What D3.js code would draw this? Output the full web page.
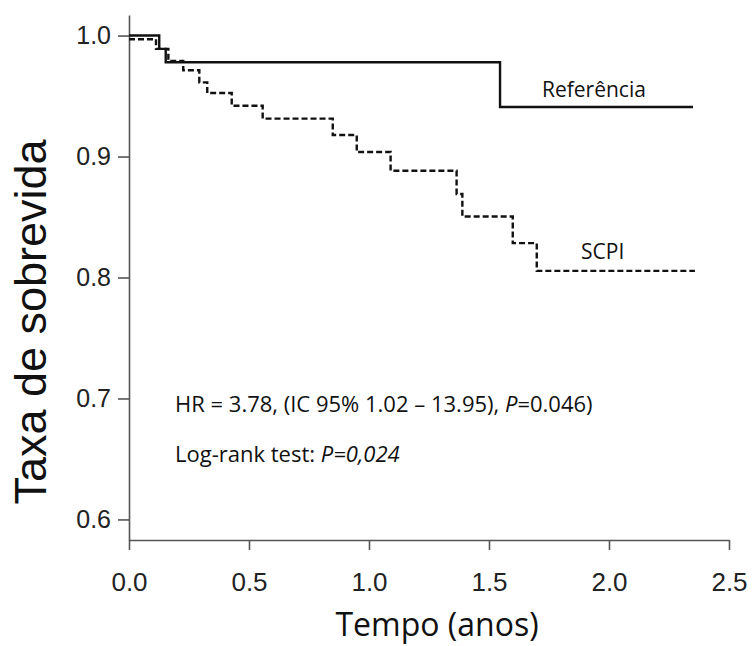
<!DOCTYPE html>
<html>
<head>
<meta charset="utf-8">
<script src="https://cdn.jsdelivr.net/npm/d3@7"></script>
<style>
  body { margin: 0; background: #fff; }
  .tick text { font-family: "Liberation Sans", Arial, sans-serif; }
</style>
</head>
<body>
<svg id="chart" width="754" height="646"></svg>
<script>
// Kaplan-Meier steps
const refTimes = [0, 0.126, 0.153, 1.546, 2.35];
const refSurv  = [1.0, 0.989, 0.978, 0.941, 0.941];

const scpiTimes = [0, 0.1125, 0.164, 0.226, 0.293, 0.326, 0.428, 0.557, 0.849, 0.949, 1.090, 1.365, 1.389, 1.599, 1.699, 2.358];
const scpiSurv  = [0.997, 0.989, 0.979, 0.9713, 0.9613, 0.9525, 0.942, 0.9313, 0.9178, 0.9037, 0.8882, 0.869, 0.8504, 0.8284, 0.8055, 0.8055];

const xTicks = [0, 0.5, 1.0, 1.5, 2.0, 2.5];
const yTicks = [0.6, 0.7, 0.8, 0.9, 1.0];

const svg = d3.select("#chart");

const x = d3.scaleLinear().domain([0, 2.5]).range([129, 729]);
const y = d3.scaleLinear().domain([0.583, 1.017]).range([540, 15]);

const axisColor = "#555";

// x axis
const gx = svg.append("g")
    .attr("transform", "translate(0,540)")
    .call(d3.axisBottom(x).tickValues(xTicks).tickFormat(d3.format(".1f")).tickSize(10).tickSizeOuter(0).tickPadding(23));
gx.select(".domain").attr("stroke", axisColor).attr("stroke-width", 1.6);
gx.selectAll(".tick line").attr("stroke", axisColor).attr("stroke-width", 1.6);
gx.selectAll(".tick text").attr("font-size", 26).attr("fill", "#222");

// y axis
const gy = svg.append("g")
    .attr("transform", "translate(129,0)")
    .call(d3.axisLeft(y).tickValues(yTicks).tickFormat(d3.format(".1f")).tickSize(11).tickSizeOuter(0).tickPadding(7));
gy.select(".domain").attr("stroke", axisColor).attr("stroke-width", 1.6);
gy.selectAll(".tick line").attr("stroke", axisColor).attr("stroke-width", 1.6);
gy.selectAll(".tick text").attr("font-size", 25).attr("fill", "#222");

// curves
const line = d3.line()
    .x(d => x(d[0]))
    .y(d => y(d[1]))
    .curve(d3.curveStepAfter);

svg.append("path")
    .datum(d3.zip(refTimes, refSurv))
    .attr("d", line)
    .attr("fill", "none")
    .attr("stroke", "#111")
    .attr("stroke-width", 2.4);

svg.append("path")
    .datum(d3.zip(scpiTimes, scpiSurv))
    .attr("d", line)
    .attr("fill", "none")
    .attr("stroke", "#111")
    .attr("stroke-width", 2.4)
    .attr("stroke-dasharray", "6,3");

// labels
const labelFont = "'Open Sans', sans-serif";

svg.append("text")
    .attr("x", 542).attr("y", 97)
    .attr("font-family", labelFont).attr("font-size", 21).attr("fill", "#111")
    .text("Referência");

svg.append("text")
    .attr("x", 581).attr("y", 259)
    .attr("font-family", labelFont).attr("font-size", 21).attr("fill", "#111")
    .text("SCPI");

const hr = svg.append("text")
    .attr("x", 175).attr("y", 412)
    .attr("font-family", labelFont).attr("font-size", 22).attr("fill", "#111");
hr.append("tspan").text("HR = 3.78, (IC 95% 1.02 \u2013 13.95), ");
hr.append("tspan").attr("font-style", "italic").text("P");
hr.append("tspan").text("=0.046)");

const lr = svg.append("text")
    .attr("x", 175).attr("y", 462)
    .attr("font-family", labelFont).attr("font-size", 22).attr("fill", "#111");
lr.append("tspan").text("Log-rank test: ");
lr.append("tspan").attr("font-style", "italic").text("P=0,024");

// axis titles
svg.append("text")
    .attr("transform", "translate(46,322) rotate(-90)")
    .attr("text-anchor", "middle")
    .attr("font-family", "'Liberation Sans', Arial, sans-serif")
    .attr("font-size", 45).attr("fill", "#111")
    .text("Taxa de sobrevida");

svg.append("text")
    .attr("x", 437).attr("y", 636)
    .attr("text-anchor", "middle")
    .attr("font-family", labelFont)
    .attr("font-size", 32).attr("fill", "#111")
    .text("Tempo (anos)");
</script>
</body>
</html>
